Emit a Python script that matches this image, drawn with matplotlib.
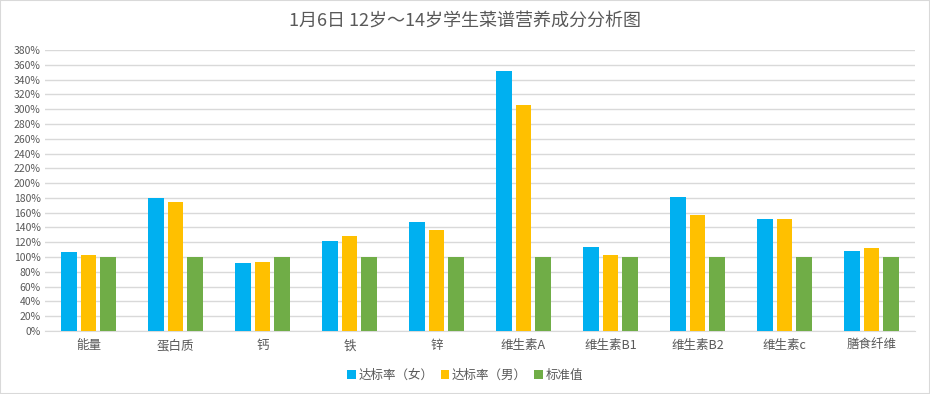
import numpy as np
import matplotlib.pyplot as plt
from matplotlib.patches import Rectangle

plt.rcParams['font.family'] = ['Noto Sans CJK SC', 'DejaVu Sans']

# 数据
categories = ['能量', '蛋白质', '钙', '铁', '锌', '维生素A', '维生素B1', '维生素B2', '维生素c', '膳食纤维']
female = [107, 180, 92, 122, 148, 351, 114, 181, 152, 108]
male = [103, 175, 93, 128, 136, 306, 103, 157, 152, 112]
standard = [100, 100, 100, 100, 100, 100, 100, 100, 100, 100]
series_names = ['达标率（女）', '达标率（男）', '标准值']
colors = ['#00B0F0', '#FFC000', '#70AD47']

fig = plt.figure(figsize=(9.3, 3.94), dpi=100)
ax = fig.add_axes([45/930, 1-331/394, 870/930, 281/394])

x = np.arange(len(categories))
w = 0.175
off = 0.224
for i, vals in enumerate([female, male, standard]):
    ax.bar(x + (i-1)*off, vals, width=w, color=colors[i], label=series_names[i], zorder=3)

ax.set_xlim(-0.5, len(categories)-0.5)
ax.set_ylim(0, 380)
ax.set_yticks(np.arange(0, 381, 20))
ax.set_yticklabels([f'{v}%' for v in range(0, 381, 20)])
ax.set_xticks(x)
ax.set_xticklabels(categories)
ax.grid(axis='y', color='#D9D9D9', linewidth=1, zorder=0)
for s in ['top', 'right', 'left']:
    ax.spines[s].set_visible(False)
ax.spines['bottom'].set_color('#D9D9D9')
ax.tick_params(axis='y', length=0, labelsize=7.5, labelcolor='#595959', pad=3)
ax.tick_params(axis='x', length=0, labelsize=9, labelcolor='#595959', pad=6)

fig.text(0.5, 0.945, '1月6日 12岁～14岁学生菜谱营养成分分析图', ha='center', va='center',
         fontsize=13, color='#595959')

fig.legend(loc='center', bbox_to_anchor=(0.5, 1-375/394), ncol=3, frameon=False,
           fontsize=9, handlelength=0.7, handleheight=0.7, handletextpad=0.2,
           columnspacing=0.6, labelcolor='#595959')

fig.patches.append(Rectangle((0, 0), 1, 1, transform=fig.transFigure, fill=False,
                             edgecolor='#D9D9D9', linewidth=1.5))

fig.savefig('out.png', dpi=100)
